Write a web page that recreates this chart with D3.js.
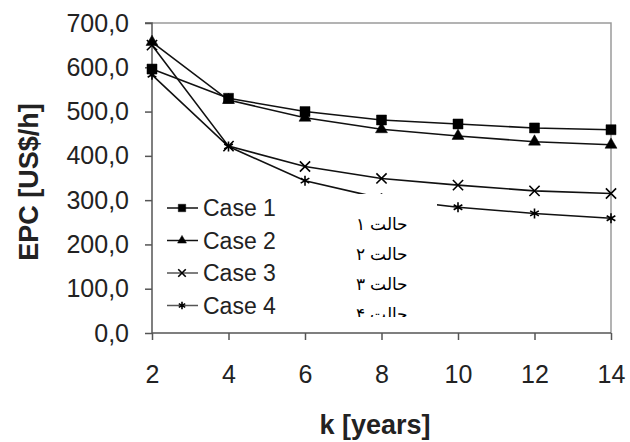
<!DOCTYPE html>
<html>
<head>
<meta charset="utf-8">
<script src="https://cdn.jsdelivr.net/npm/d3@7"></script>
<style>
  body { margin: 0; background: #fff; }
  text { font-family: "Liberation Sans", Arial, sans-serif; }
</style>
</head>
<body>
<div id="chart"></div>
<script>
const width = 630;
const height = 442;
const margin = { top: 23, right: 19, bottom: 109, left: 152 };

const years = [2, 4, 6, 8, 10, 12, 14];
const case1 = [596, 530, 500, 481, 472, 463, 459];
const case2 = [657, 526, 486, 460, 445, 432, 425];
const case3 = [650, 422, 376, 349, 334, 321, 315];
const case4 = [583, 421, 344, 304, 284, 270, 259];
const yTicks = [0, 100, 200, 300, 400, 500, 600, 700];
const caseNames = ['Case 1', 'Case 2', 'Case 3', 'Case 4'];
const persianNames = ['حالت ۱', 'حالت ۲', 'حالت ۳', 'حالت ۴'];
const symbols = [d3.symbolSquare, d3.symbolTriangle, d3.symbolTimes, d3.symbolAsterisk];

const series = [case1, case2, case3, case4].map((vals, i) => ({
  name: caseNames[i],
  symbol: symbols[i],
  values: vals.map((v, j) => ({ k: years[j], v: v }))
}));

const svg = d3.select('#chart')
  .append('svg')
  .attr('width', width)
  .attr('height', height);

const x = d3.scaleLinear()
  .domain([2, 14])
  .range([margin.left, width - margin.right]);

const y = d3.scaleLinear()
  .domain([0, 700])
  .range([height - margin.bottom, margin.top]);

// frame top/right
svg.append('path')
  .attr('d', `M${x(2)},${y(700)}H${x(14)}V${y(0)}`)
  .attr('fill', 'none')
  .attr('stroke', '#9a9a9a')
  .attr('stroke-width', 1.5);

const comma = d => d3.format('.1f')(d).replace('.', ',');

const yAxis = svg.append('g')
  .attr('transform', `translate(${margin.left},0)`)
  .call(d3.axisLeft(y).tickValues(yTicks).tickFormat(comma).tickSize(7).tickPadding(16));

const xAxis = svg.append('g')
  .attr('transform', `translate(0,${height - margin.bottom})`)
  .call(d3.axisBottom(x).tickValues(years).tickSize(7).tickPadding(25));

[yAxis, xAxis].forEach(a => {
  a.select('.domain').attr('stroke', '#555').attr('stroke-width', 1.5);
  a.selectAll('.tick line').attr('stroke', '#555').attr('stroke-width', 1.5);
  a.selectAll('.tick text')
    .attr('fill', '#222')
    .attr('font-size', '25px')
    .attr('font-family', '"Liberation Sans", Arial, sans-serif');
});

yAxis.select('.domain').attr('d', `M-7,${y(700)}H0V${y(0)}`);
xAxis.select('.domain').attr('d', `M${x(2)},0H${x(14)}`);

const line = d3.line().x(d => x(d.k)).y(d => y(d.v));

const g = svg.append('g');
series.forEach(s => {
  g.append('path')
    .datum(s.values)
    .attr('d', line)
    .attr('fill', 'none')
    .attr('stroke', '#111')
    .attr('stroke-width', 1.6);
});

function drawMarker(sel, sym, px, py, scale) {
  const isLine = sym === d3.symbolTimes || sym === d3.symbolAsterisk;
  const base = sym === d3.symbolSquare ? 100 : sym === d3.symbolTriangle ? 62 : 70;
  sel.append('path')
    .attr('transform', `translate(${px},${py})`)
    .attr('d', d3.symbol().type(sym).size(base * scale)())
    .attr('fill', isLine ? 'none' : '#000')
    .attr('stroke', '#000')
    .attr('stroke-width', isLine ? 1.6 : 0.5);
}

series.forEach(s => {
  s.values.forEach(d => drawMarker(g, s.symbol, x(d.k), y(d.v), 1));
});

// legend
const legend = svg.append('g');
series.forEach((s, i) => {
  const ly = 208 + i * 32.5;
  legend.append('line')
    .attr('x1', 167).attr('x2', 198)
    .attr('y1', ly).attr('y2', ly)
    .attr('stroke', i < 2 ? '#111' : '#555')
    .attr('stroke-width', 1.5);
  drawMarker(legend, s.symbol, 182, ly, 0.55);
  legend.append('text')
    .attr('x', 203).attr('y', ly + 8)
    .attr('font-size', '23px')
    .attr('fill', '#222')
    .text(s.name);
});

// white overlay box with Persian labels (last row is cut by the box)
svg.append('clipPath').attr('id', 'boxclip')
  .append('rect').attr('x', 298).attr('y', 194).attr('width', 139).attr('height', 123);

const box = svg.append('g').attr('clip-path', 'url(#boxclip)');
box.append('rect')
  .attr('x', 298).attr('y', 194).attr('width', 139).attr('height', 123)
  .attr('fill', '#fff');
persianNames.forEach((t, i) => {
  box.append('text')
    .attr('x', 408).attr('y', 230 + i * 30)
    .attr('text-anchor', 'start')
    .attr('direction', 'rtl')
    .attr('font-size', '17px')
    .attr('font-family', '"Noto Naskh Arabic", Amiri, FreeSerif, "Times New Roman", "DejaVu Sans", serif')
    .attr('fill', '#000')
    .text(t);
});

// axis titles
svg.append('text')
  .attr('x', 375).attr('y', 434)
  .attr('text-anchor', 'middle')
  .attr('font-size', '27px')
  .attr('font-weight', 'bold')
  .attr('fill', '#222')
  .text('k [years]');

svg.append('text')
  .attr('transform', 'translate(38,182) rotate(-90)')
  .attr('text-anchor', 'middle')
  .attr('font-size', '27px')
  .attr('font-weight', 'bold')
  .attr('fill', '#222')
  .text('EPC [US$/h]');
</script>
</body>
</html>
